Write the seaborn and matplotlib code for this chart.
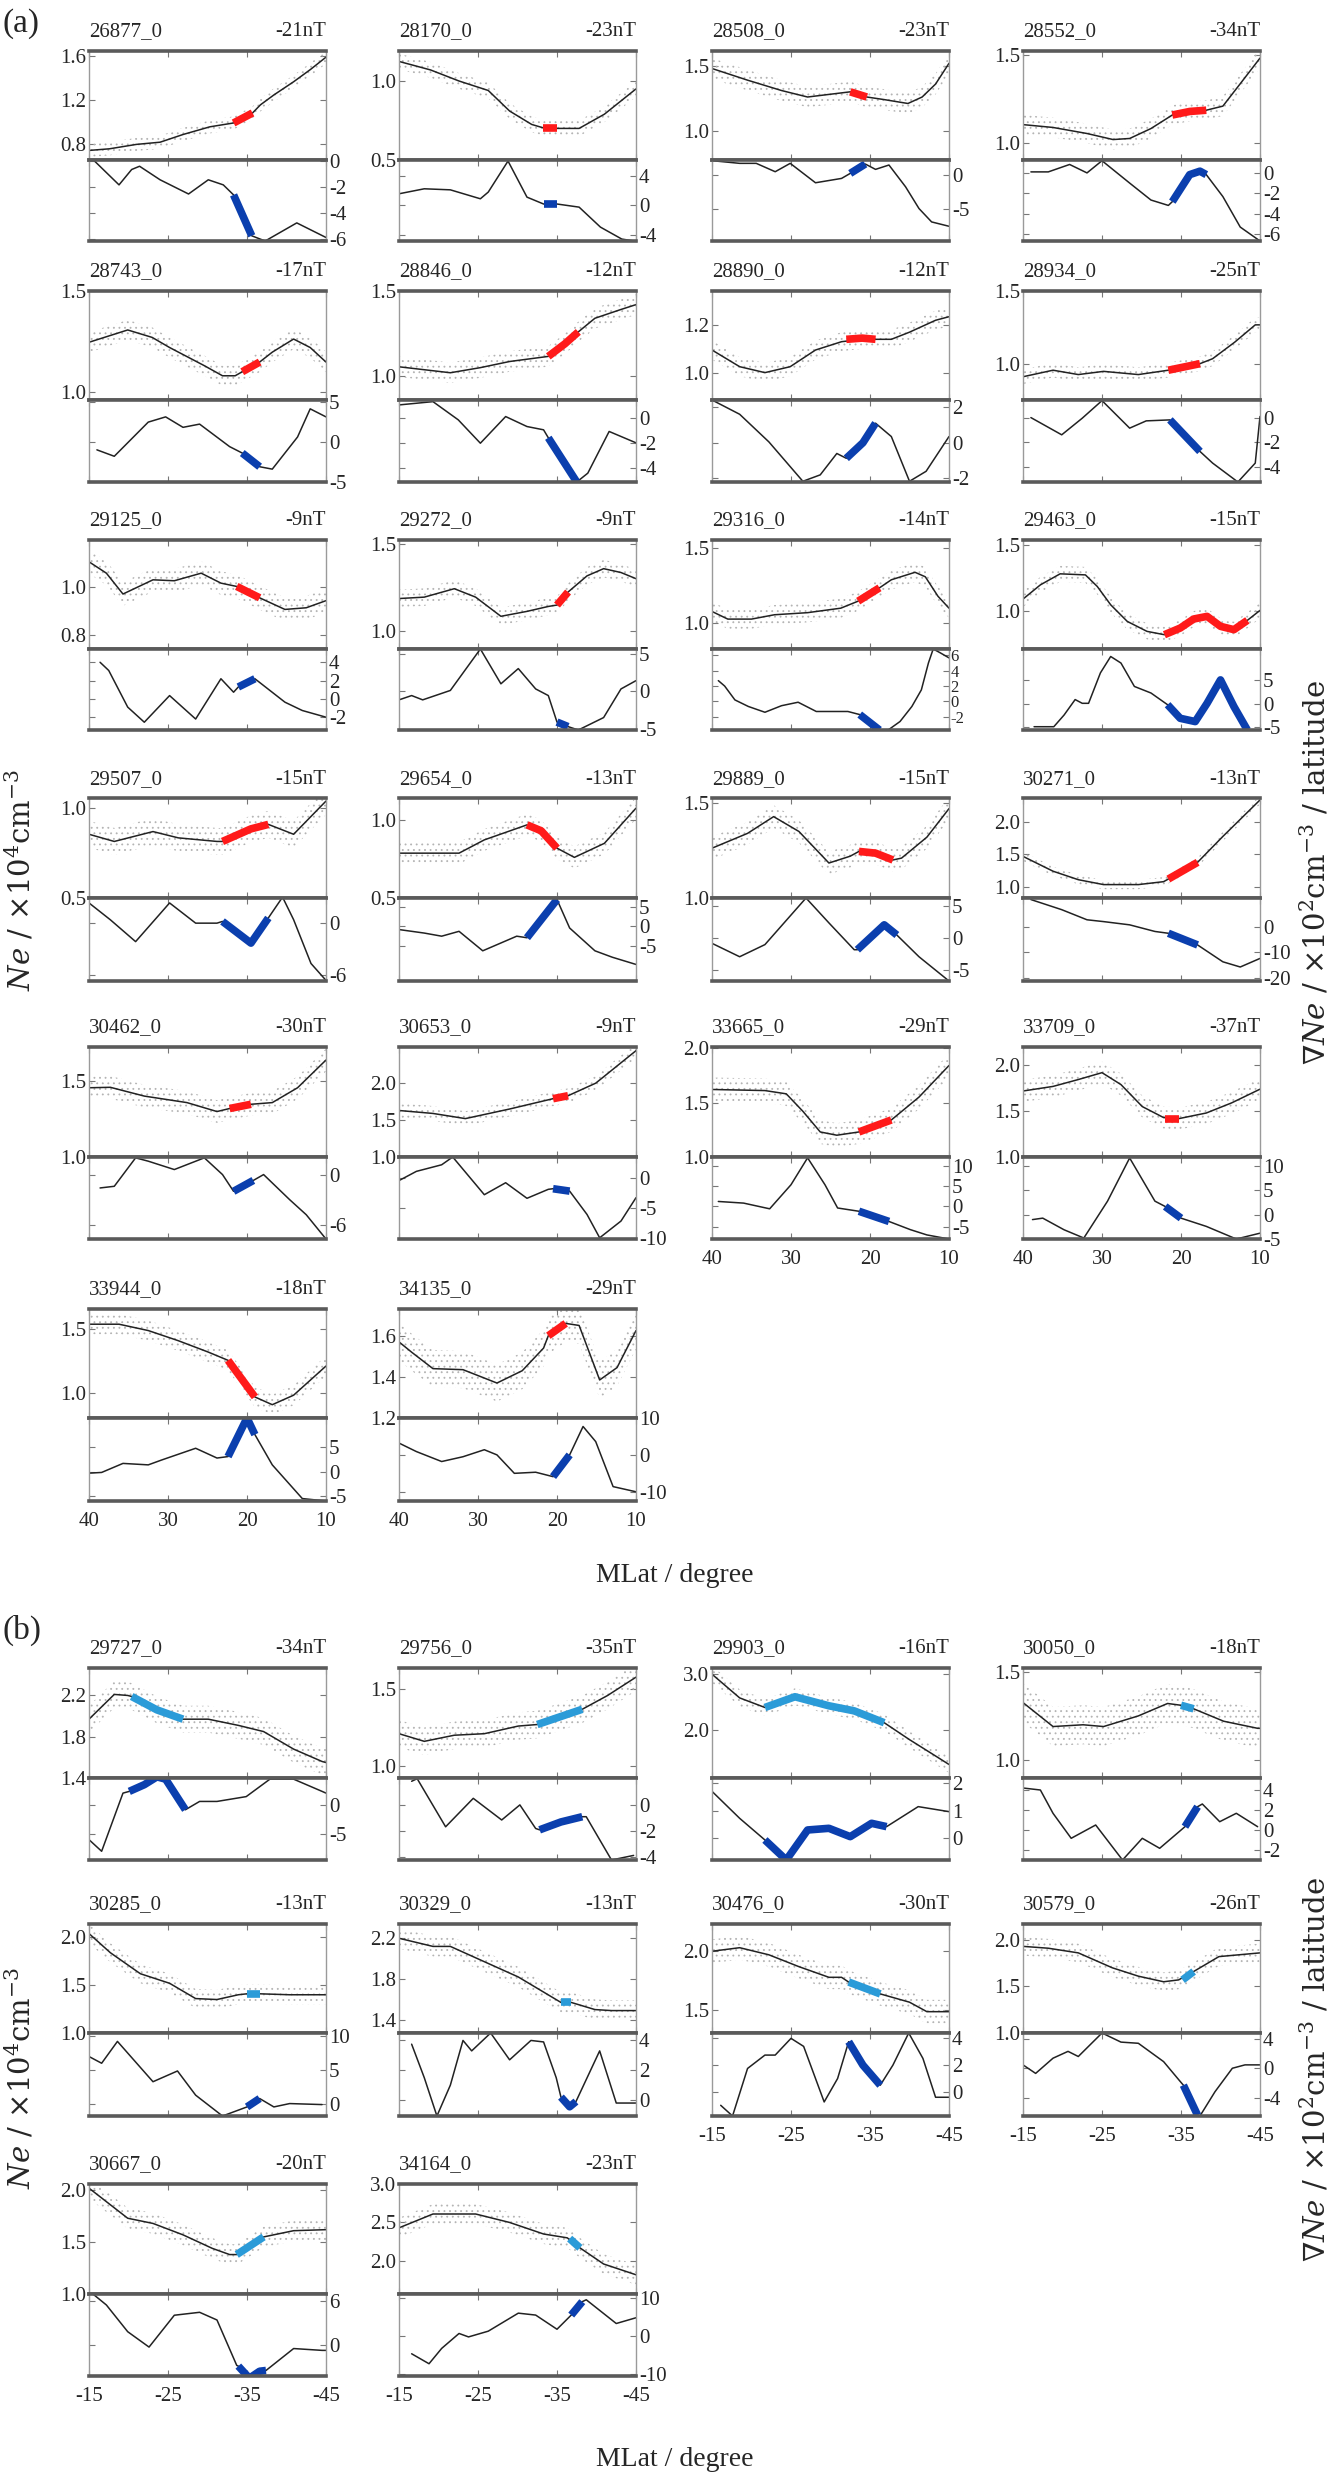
import matplotlib
matplotlib.use("Agg")
import matplotlib.pyplot as plt
import seaborn as sns

# ---------------- panel (a) data ----------------
orbits_a = ["26877_0", "28170_0", "28508_0", "28552_0", "28743_0", "28846_0", "28890_0", "28934_0",
            "29125_0", "29272_0", "29316_0", "29463_0", "29507_0", "29654_0", "29889_0", "30271_0",
            "30462_0", "30653_0", "33665_0", "33709_0", "33944_0", "34135_0"]
dst_a = ["-21nT", "-23nT", "-23nT", "-34nT", "-17nT", "-12nT", "-12nT", "-25nT",
         "-9nT", "-9nT", "-14nT", "-15nT", "-15nT", "-13nT", "-15nT", "-13nT",
         "-30nT", "-9nT", "-29nT", "-37nT", "-18nT", "-29nT"]

# Ne curves (MLat, Ne)
ne_a = [
    [(40, 0.745), (37.4, 0.76), (34, 0.80), (31, 0.82), (28.1, 0.89), (24.7, 0.96), (21.7, 0.995), (19.3, 1.086), (18.3, 1.16), (16.6, 1.25), (14.1, 1.37), (12, 1.48), (10, 1.594)],
    [(40, 1.124), (36, 1.07), (32.4, 1.0), (28.7, 0.94), (26, 0.81), (23.2, 0.725), (21.5, 0.70), (20, 0.70), (17.2, 0.70), (14, 0.79), (10, 0.95)],
    [(40, 1.48), (35.5, 1.39), (31.2, 1.31), (27.9, 1.26), (25.2, 1.28), (22.5, 1.30), (20.4, 1.26), (18.2, 1.24), (15.2, 1.21), (13.4, 1.26), (11.7, 1.36), (10, 1.52)],
    [(40, 1.106), (36.2, 1.09), (31.9, 1.056), (28.6, 1.022), (26.5, 1.028), (23.8, 1.084), (21.1, 1.16), (18.9, 1.18), (16.8, 1.187), (14.7, 1.21), (12.5, 1.336), (10, 1.48)],
    [(40, 1.246), (35.1, 1.307), (32, 1.27), (29.8, 1.22), (25.4, 1.13), (23.1, 1.08), (21.5, 1.08), (20.6, 1.10), (18.4, 1.148), (16.8, 1.197), (14.1, 1.262), (12, 1.22), (10, 1.148)],
    [(40, 1.055), (33.5, 1.02), (29.7, 1.05), (26, 1.086), (21.1, 1.116), (19, 1.19), (17.3, 1.26), (15.2, 1.34), (12, 1.39), (10, 1.42)],
    [(40, 1.095), (36.5, 1.025), (33.3, 1.0), (30.1, 1.025), (26.9, 1.095), (23.6, 1.13), (21, 1.14), (19.3, 1.14), (17.3, 1.14), (15, 1.17), (11.7, 1.22), (10, 1.235)],
    [(40, 0.91), (36.2, 0.955), (33, 0.925), (29.8, 0.947), (25.4, 0.925), (21.6, 0.955), (17.6, 1.0), (16, 1.034), (13.2, 1.148), (10.6, 1.267), (10, 1.267)],
    [(40, 1.108), (37.8, 1.06), (35.7, 0.972), (31.9, 1.032), (29.2, 1.028), (25.8, 1.06), (23.3, 1.018), (21.3, 1.004), (18.4, 0.956), (15.2, 0.907), (12.5, 0.914), (10, 0.944)],
    [(40, 1.187), (36.8, 1.195), (33, 1.243), (30.3, 1.195), (27.1, 1.086), (23.8, 1.114), (21.1, 1.142), (20, 1.15), (18.6, 1.224), (16.2, 1.316), (14.1, 1.357), (11.9, 1.335), (10, 1.30)],
    [(40, 1.078), (38, 1.027), (35, 1.027), (32.1, 1.056), (27.9, 1.07), (23.7, 1.10), (21.5, 1.147), (18.8, 1.236), (17.3, 1.29), (14.3, 1.34), (13, 1.31), (11.4, 1.18), (10, 1.10)],
    [(40, 1.093), (37.8, 1.2), (35.3, 1.283), (32.1, 1.275), (30.6, 1.188), (28.9, 1.05), (26.8, 0.925), (24.3, 0.85), (22.1, 0.825), (20.1, 0.875), (18.4, 0.943), (16.7, 0.963), (15, 0.888), (13.3, 0.863), (11.6, 0.933), (10, 1.008)],
    [(40, 0.855), (36.8, 0.815), (31.9, 0.87), (28.7, 0.835), (23.8, 0.815), (23.1, 0.815), (19.5, 0.885), (17.3, 0.91), (14.1, 0.855), (10, 1.04)],
    [(40, 0.787), (32.4, 0.787), (29.2, 0.872), (23.8, 0.968), (22, 0.93), (20, 0.819), (17.8, 0.76), (14, 0.85), (10, 1.075)],
    [(40, 1.262), (35.5, 1.34), (32.2, 1.428), (29, 1.35), (25.2, 1.184), (22.5, 1.22), (21.4, 1.245), (19.3, 1.236), (17.1, 1.2), (16, 1.21), (12.8, 1.32), (10, 1.47)],
    [(40, 1.467), (36.2, 1.24), (33, 1.11), (29.8, 1.035), (25.4, 1.035), (22.2, 1.08), (21.6, 1.12), (17.9, 1.376), (14.7, 1.772), (10, 2.33)],
    [(40, 1.457), (37.3, 1.46), (33, 1.402), (27.6, 1.359), (23.8, 1.30), (22.2, 1.32), (19.5, 1.348), (16.8, 1.359), (13.6, 1.457), (10, 1.64)],
    [(40, 1.63), (35.7, 1.59), (31.6, 1.52), (26, 1.65), (20.5, 1.79), (18.6, 1.83), (15.1, 2.0), (10, 2.44)],
    [(40, 1.62), (33.3, 1.61), (30.6, 1.58), (28.5, 1.42), (26.3, 1.23), (24.2, 1.2), (21.4, 1.23), (17.3, 1.34), (13.8, 1.55), (10, 1.84)],
    [(40, 1.72), (36.2, 1.77), (33, 1.845), (30, 1.92), (27.6, 1.79), (24.9, 1.55), (22.2, 1.43), (20.2, 1.42), (16.8, 1.48), (13.6, 1.59), (10, 1.74)],
    [(40, 1.54), (36.2, 1.54), (32.5, 1.49), (28.7, 1.41), (24.9, 1.32), (22.4, 1.255), (19, 0.966), (16.8, 0.905), (14.1, 0.98), (10, 1.21)],
    [(40, 1.57), (38.4, 1.52), (35.7, 1.44), (31.9, 1.435), (27.6, 1.37), (24.4, 1.43), (21.7, 1.54), (21.1, 1.6), (18.9, 1.66), (17.2, 1.65), (14.6, 1.385), (12.4, 1.445), (10, 1.625)],
]

# highlighted Ne segments
ne_hl_a = [
    [(21.7, 0.995), (19.3, 1.086)],
    [(21.8, 0.70), (20, 0.70)],
    [(22.5, 1.30), (20.4, 1.26)],
    [(21.1, 1.16), (18.9, 1.18), (16.8, 1.187)],
    [(20.6, 1.10), (18.4, 1.148)],
    [(21.1, 1.116), (19, 1.19), (17.3, 1.26)],
    [(23, 1.14), (21, 1.145), (19.3, 1.14)],
    [(21.6, 0.955), (17.6, 1.0)],
    [(21.3, 1.004), (18.4, 0.956)],
    [(20, 1.15), (18.6, 1.224)],
    [(21.5, 1.147), (18.8, 1.236)],
    [(22.1, 0.825), (20.1, 0.875), (18.4, 0.943), (16.7, 0.963), (15, 0.888), (13.3, 0.863), (11.6, 0.933)],
    [(23.1, 0.815), (19.5, 0.885), (17.3, 0.91)],
    [(23.8, 0.968), (22, 0.93), (20, 0.819)],
    [(21.4, 1.245), (19.3, 1.236), (17.1, 1.2)],
    [(21.6, 1.12), (17.9, 1.376)],
    [(22.2, 1.32), (19.5, 1.348)],
    [(20.5, 1.79), (18.6, 1.83)],
    [(21.4, 1.23), (17.3, 1.34)],
    [(22, 1.42), (20.2, 1.42)],
    [(22.4, 1.255), (19, 0.966)],
    [(21.1, 1.6), (18.9, 1.66)],
]

# gradient curves (MLat, dNe)
grad_a = [
    [(39.3, 0.0), (36.2, -1.83), (34.6, -0.65), (33.6, -0.4), (31, -1.44), (27.4, -2.53), (24.9, -1.44), (23, -1.83), (21.7, -2.6), (19.4, -5.74), (17.7, -6.14), (13.7, -4.75), (10, -5.87)],
    [(40, 1.57), (36.8, 2.24), (33.5, 2.1), (29.7, 0.9), (28.7, 1.8), (26.2, 5.96), (23.8, 1.12), (21.7, 0.2), (20, 0.2), (17.2, -0.22), (14.5, -2.9), (11.8, -4.5), (10, -4.8)],
    [(40, 2.15), (36.5, 1.75), (34.4, 1.75), (32, 0.5), (30.1, 1.75), (26.9, -1.15), (23.6, -0.5), (22.5, 0.25), (20.6, 1.65), (19.3, 0.85), (17.6, 1.5), (15.5, -1.75), (13.8, -5), (12.2, -7), (10, -7.65)],
    [(39, 0.1), (36.8, 0.1), (34.1, 0.83), (31.9, 0), (30, 1.2), (26.5, -1.0), (23.8, -2.67), (21.6, -3.2), (21.1, -2.83), (18.9, -0.17), (17.6, 0.17), (16.8, -0.17), (14.7, -2.33), (12.5, -5.33), (10, -6.7)],
    [(39, -1.0), (36.8, -1.8), (32.5, 2.45), (30.3, 3.1), (28.1, 1.8), (26, 2.2), (22.2, -0.6), (20.6, -1.4), (18.4, -3.1), (16.8, -3.4), (13.6, 0.6), (12, 4.1), (10, 3.1)],
    [(40, 1.0), (35.7, 1.26), (32.5, -0.18), (29.7, -2.03), (26.5, 0.08), (23.8, -0.71), (21.7, -0.97), (21.1, -1.6), (17.5, -5.1), (16.1, -4.4), (13.4, -1.1), (10, -2.0)],
    [(40, 2.4), (36.5, 1.6), (32.8, 0.05), (28.5, -2.16), (26.3, -1.8), (24.2, -0.6), (23, -0.87), (20.9, 0), (19.3, 1.1), (17.3, 0.35), (15, -2.16), (12.9, -1.6), (10, 0.35)],
    [(39, 0.05), (35.1, -1.37), (32.5, 0.0), (30, 1.45), (26.5, -0.82), (24.4, -0.22), (21.4, -0.14), (17.6, -2.74), (16, -3.7), (12.8, -5.26), (10.6, -3.7), (10, 0.14)],
    [(38.6, 4.0), (37.5, 3.1), (35.1, -0.9), (33, -2.55), (29.8, 0.36), (26.5, -2.2), (23.3, 2.2), (21.7, 0.73), (21.1, 1.3), (19, 2.2), (15.2, -0.36), (13, -1.27), (10, -2.0)],
    [(40, -1.15), (38.4, -0.58), (37, -1.15), (33.5, 0.1), (29.7, 5.6), (27.1, 0.98), (24.9, 3.0), (22.7, 0.3), (21.1, -0.58), (20, -4.1), (18.6, -4.7), (17.3, -5.15), (14.1, -3.5), (11.9, 0.3), (10, 1.4)],
    [(39.2, 2.7), (38.4, 2.0), (37.1, 0.2), (35.4, -0.65), (33.3, -1.4), (31.2, -0.55), (29.1, -0.1), (26.8, -1.3), (22.8, -1.3), (21.3, -1.7), (18.8, -3.7), (17.7, -3.7), (16.2, -2.6), (14.7, -0.65), (13.5, 1.5), (12.6, 5.0), (12, 6.8), (11.1, 6.3), (10, 5.65)],
    [(38.6, -4.9), (36.1, -4.9), (34.8, -2.4), (33.4, 0.9), (32.5, 0.1), (31.7, 0.1), (30.2, 6.6), (28.9, 10.1), (27.6, 8.7), (25.9, 3.7), (23.8, 2.3), (21.7, -0.2), (20.1, -3.1), (18.2, -3.8), (16.7, 0.1), (15, 5.1), (13.3, -0.6), (11.6, -5.6), (10, -5.6)],
    [(40, 2.33), (37.3, 0.39), (34.1, -2.13), (29.8, 2.33), (26.5, 0), (23.8, 0), (23.1, 0.2), (19.5, -2.3), (17.3, 0.6), (15.5, 3.0), (14.1, 0.4), (11.9, -4.65), (10, -6.6)],
    [(40, -0.8), (36.8, -1.7), (34.6, -2.5), (32.4, -1.25), (29.4, -6.25), (25.1, -2.5), (23.8, -2.9), (20, 6.9), (18.4, -0.4), (15.2, -6.25), (13, -7.9), (10, -9.75)],
    [(40, -0.8), (36.5, -2.9), (33.3, -1.0), (28.1, 6.3), (25.2, 2.4), (22, -1.8), (21.6, -1.8), (18.2, 2.1), (16.6, 0.5), (13.8, -2.9), (10, -6.7)],
    [(39, 10.4), (35.1, 6.5), (31.9, 2.6), (29.8, 1.9), (26.5, 0.65), (23.3, -1.9), (21.6, -2.6), (17.9, -7.1), (14.7, -13.6), (12.5, -15.6), (10, -12.3)],
    [(38.6, -1.6), (36.8, -1.4), (34.1, 2.0), (32.5, 1.6), (29.2, 0.6), (25.4, 2.0), (23.1, 0), (21.7, -2.0), (19.2, -0.7), (17.9, 0), (14.6, -3), (12.5, -4.8), (10, -7.7)],
    [(40, -0.44), (37.8, 1.1), (34.6, 2.2), (33.2, 3.5), (29.2, -2.8), (26.5, -0.8), (23.8, -3.4), (21.1, -1.9), (20.5, -1.8), (18.4, -2.2), (16.2, -6.1), (14.6, -10), (11.9, -7.2), (10, -3.3)],
    [(39.2, 1.2), (36, 0.8), (32.7, -0.6), (30, 5.3), (27.9, 11.9), (25.7, 5.3), (24.1, -0.4), (21.4, -1.2), (17.6, -3.7), (14.9, -5.7), (12.8, -7), (10, -8)],
    [(38.8, -1), (37.5, -0.7), (34.8, -3.1), (32.3, -4.8), (29.3, 2.8), (26.5, 11.7), (23.3, 2.8), (22, 1.7), (20, -0.7), (16.8, -2.4), (13, -5), (10, -3.8)],
    [(40, -0.3), (38.4, -0.15), (35.7, 1.7), (32.5, 1.4), (30.8, 2.4), (26.5, 4.8), (23.8, 2.8), (22.4, 3.1), (20, 11), (19, 7.6), (16.8, 1.4), (13, -5.5), (10, -6)],
    [(40, 3.2), (37.8, 0.9), (34.6, -1.8), (31.9, -0.5), (29.2, 1.4), (27.6, 0), (25.4, -5), (22.7, -4.7), (20.5, -5.9), (18.4, 0), (16.7, 7.7), (15.1, 3.6), (12.9, -8.6), (10, -10)],
]

grad_hl_a = [
    [(21.7, -2.6), (19.4, -5.74)],
    [(21.7, 0.2), (20, 0.2)],
    [(22.5, 0.25), (20.6, 1.65)],
    [(21.1, -2.83), (18.9, -0.17), (17.6, 0.17), (16.8, -0.17)],
    [(20.6, -1.4), (18.4, -3.1)],
    [(21.1, -1.6), (17.5, -5.1)],
    [(23, -0.87), (20.9, 0), (19.3, 1.1)],
    [(21.4, -0.14), (17.6, -2.74)],
    [(21.1, 1.3), (19, 2.2)],
    [(20, -4.1), (18.6, -4.7)],
    [(21.3, -1.7), (18.8, -3.7)],
    [(21.7, -0.2), (20.1, -3.1), (18.2, -3.8), (16.7, 0.1), (15, 5.1), (13.3, -0.6), (11.6, -5.6)],
    [(23.1, 0.2), (19.5, -2.3), (17.3, 0.6)],
    [(23.8, -2.9), (20, 6.9)],
    [(21.6, -1.8), (18.2, 2.1), (16.6, 0.5)],
    [(21.6, -2.6), (17.9, -7.1)],
    [(21.7, -2.0), (19.2, -0.7)],
    [(20.5, -1.8), (18.4, -2.2)],
    [(21.4, -1.2), (17.6, -3.7)],
    [(22, 1.7), (20, -0.7)],
    [(22.4, 3.1), (20, 11), (19, 7.6)],
    [(20.5, -5.9), (18.4, 0)],
]

ne_lim_a = [(0.658, 1.65), (0.5, 1.19), (0.774, 1.615), (0.907, 1.52), (0.96, 1.5), (0.86, 1.5),
            (0.885, 1.343), (0.75, 1.5), (0.74, 1.2), (0.9, 1.52), (0.827, 1.556), (0.7175, 1.5375),
            (0.5, 1.057), (0.5, 1.14), (1.0, 1.526), (0.83, 2.36), (1.0, 1.726), (1.0, 2.49),
            (1.0, 2.01), (1.0, 2.2), (0.8, 1.66), (1.2, 1.73)]
ne_ticks_a = [[0.8, 1.2, 1.6], [0.5, 1.0], [1.0, 1.5], [1.0, 1.5], [1.0, 1.5], [1.0, 1.5],
              [1.0, 1.2], [1.0, 1.5], [0.8, 1.0], [1.0, 1.5], [1.0, 1.5], [1.0, 1.5],
              [0.5, 1.0], [0.5, 1.0], [1.0, 1.5], [1.0, 1.5, 2.0], [1.0, 1.5], [1.0, 1.5, 2.0],
              [1.0, 1.5, 2.0], [1.0, 1.5, 2.0], [1.0, 1.5], [1.2, 1.4, 1.6]]
grad_lim_a = [(-6.14, 0.08), (-4.76, 6.1), (-9.85, 2.25), (-6.7, 1.27), (-5, 5.2), (-5.1, 1.39),
              (-2.2, 2.4), (-5.26, 1.5), (-3.4, 5.45), (-5.15, 5.6), (-3.7, 6.8), (-5.6, 11.7),
              (-6.67, 2.9), (-14, 7.3), (-6.7, 6.3), (-21, 11), (-7.7, 2.1), (-10.2, 3.5),
              (-8, 12.1), (-5, 11.9), (-6, 11), (-12.5, 10)]
grad_ticks_a = [[0, -2, -4, -6], [4, 0, -4], [0, -5], [0, -2, -4, -6], [5, 0, -5], [0, -2, -4],
                [2, 0, -2], [0, -2, -4], [4, 2, 0, -2], [5, 0, -5], [6, 4, 2, 0, -2], [5, 0, -5],
                [0, -6], [5, 0, -5], [5, 0, -5], [0, -10, -20], [0, -6], [0, -5, -10],
                [10, 5, 0, -5], [10, 5, 0, -5], [5, 0, -5], [10, 0, -10]]
# half-width of the raw Ne scatter around each curve
spread_a = [0.06, 0.05, 0.08, 0.055, 0.05, 0.06, 0.04, 0.05, 0.05, 0.05, 0.065, 0.06,
            0.075, 0.07, 0.06, 0.07, 0.075, 0.1, 0.11, 0.12, 0.08, 0.09]

# ---------------- panel (b) data ----------------
orbits_b = ["29727_0", "29756_0", "29903_0", "30050_0", "30285_0", "30329_0", "30476_0", "30579_0",
            "30667_0", "34164_0"]
dst_b = ["-34nT", "-35nT", "-16nT", "-18nT", "-13nT", "-13nT", "-30nT", "-26nT", "-20nT", "-23nT"]

ne_b = [
    [(-15, 1.97), (-18.2, 2.21), (-19.9, 2.2), (-20.4, 2.19), (-23.6, 2.06), (-26.9, 1.97), (-30.1, 1.97), (-33.9, 1.91), (-37.1, 1.85), (-40.9, 1.68), (-44.5, 1.56), (-45, 1.55)],
    [(-15, 1.21), (-18.2, 1.16), (-22, 1.20), (-25.8, 1.21), (-30.1, 1.26), (-32.5, 1.27), (-38.2, 1.37), (-41.4, 1.46), (-44.7, 1.57), (-45, 1.58)],
    [(-15, 2.99), (-18.5, 2.57), (-21.7, 2.4), (-25.5, 2.59), (-29.8, 2.43), (-33, 2.34), (-36.8, 2.13), (-40, 1.83), (-43.3, 1.54), (-45, 1.39)],
    [(-15, 1.325), (-18.8, 1.19), (-22.6, 1.2), (-25.2, 1.19), (-29.6, 1.25), (-33.3, 1.32), (-35, 1.31), (-36.6, 1.29), (-40.4, 1.22), (-44.7, 1.18), (-45, 1.18)],
    [(-15, 2.04), (-17.7, 1.84), (-21.5, 1.62), (-25.2, 1.52), (-28.5, 1.36), (-31.2, 1.35), (-33.9, 1.40), (-35, 1.41), (-36.6, 1.41), (-40.4, 1.40), (-45, 1.40)],
    [(-15, 2.2), (-19.3, 2.12), (-21.5, 2.12), (-25.8, 1.97), (-30.1, 1.82), (-35.5, 1.57), (-36.8, 1.57), (-39.8, 1.5), (-41.9, 1.49), (-45, 1.49)],
    [(-15, 2.0), (-18.5, 2.03), (-22.2, 1.97), (-26, 1.87), (-29.8, 1.78), (-31.4, 1.78), (-32.3, 1.74), (-36.3, 1.64), (-40, 1.57), (-42.2, 1.49), (-45, 1.49)],
    [(-15, 1.93), (-18.2, 1.91), (-22, 1.86), (-26.3, 1.70), (-29.6, 1.61), (-32.8, 1.55), (-34.7, 1.57), (-36.6, 1.66), (-39.8, 1.82), (-45, 1.86)],
    [(-15, 2.02), (-19.9, 1.73), (-23.1, 1.68), (-26.9, 1.57), (-30.6, 1.44), (-32.8, 1.38), (-33.7, 1.38), (-37.1, 1.55), (-40.9, 1.61), (-45, 1.62)],
    [(-15, 2.43), (-19.3, 2.61), (-24.7, 2.61), (-29, 2.5), (-33.3, 2.35), (-36.3, 2.30), (-37.9, 2.17), (-40.9, 1.96), (-45, 1.82)],
]

ne_hl_b = [
    [(-20.4, 2.19), (-23.6, 2.06), (-26.9, 1.97)],
    [(-32.5, 1.27), (-38.2, 1.37)],
    [(-21.7, 2.4), (-25.5, 2.59), (-29.8, 2.43), (-33, 2.34), (-36.8, 2.13)],
    [(-35, 1.31), (-36.6, 1.29)],
    [(-35, 1.41), (-36.6, 1.41)],
    [(-35.5, 1.57), (-36.8, 1.57)],
    [(-32.3, 1.74), (-36.3, 1.64)],
    [(-35.2, 1.57), (-36.6, 1.66)],
    [(-33.7, 1.38), (-37.1, 1.55)],
    [(-36.6, 2.29), (-37.9, 2.17)],
]

grad_b = [
    [(-15, -6), (-16.6, -8), (-19.3, 2.0), (-20.1, 2.3), (-22, 3.45), (-23.6, 4.8), (-24.7, 4.4), (-27.2, -0.86), (-29, 0.57), (-31.2, 0.57), (-34.9, 1.4), (-37.9, 4.4), (-40.9, 4.4), (-44.5, 2.3), (-45, 2.0)],
    [(-16.6, 1.8), (-17.3, 2.0), (-20.9, -1.67), (-24.4, 0.5), (-28, -1.15), (-30.3, 0), (-32.3, -1.8), (-32.8, -1.9), (-35.5, -1.3), (-38.2, -0.9), (-38.7, -0.9), (-41.9, -4.2), (-44.7, -3.85)],
    [(-15, 1.69), (-18.5, 0.72), (-21.7, -0.06), (-24.4, -0.78), (-27.1, 0.3), (-29.8, 0.36), (-32.5, 0.06), (-35.2, 0.54), (-37.1, 0.42), (-41.1, 1.14), (-45, 0.96)],
    [(-15, 4.2), (-17.2, 4.0), (-18.8, 1.67), (-21.1, -0.83), (-24.2, 0.5), (-27.6, -3), (-30.1, -0.83), (-32.3, -1.83), (-35.5, 0.33), (-37.1, 2.33), (-37.7, 2.6), (-39.9, 0.83), (-42, 1.67), (-44.7, 0.33)],
    [(-15, 7), (-16.6, 6), (-18.6, 9.25), (-23.1, 3.25), (-26.2, 4.85), (-28.5, 1.25), (-31.9, -1.85), (-35, -0.5), (-36.6, 0.75), (-38.4, -0.5), (-40.4, 0), (-44.5, -0.15)],
    [(-16.6, 3.75), (-18.2, 1.5), (-19.8, -1.07), (-21.5, 1.0), (-23.1, 4.0), (-24.2, 3.3), (-26.6, 4.5), (-29, 2.7), (-31.7, 4.0), (-33.3, 3.9), (-34.9, 1.5), (-35.5, 0.2), (-36.6, -0.45), (-37.4, -0.1), (-40.4, 3.3), (-42.5, -0.2), (-45, -0.2)],
    [(-16.1, -1), (-17.6, -1.8), (-19.5, 1.75), (-21.7, 2.75), (-23, 2.75), (-25, 4.0), (-26.6, 3.4), (-29.2, -0.75), (-30.9, 1.0), (-32.3, 3.75), (-34.1, 2.0), (-36.3, 0.5), (-37.9, 2.0), (-39.9, 4.4), (-41.7, 2.5), (-43.3, -0.4), (-45, -0.4)],
    [(-15, 0.46), (-16.6, -0.7), (-18.8, 1.37), (-20.7, 2.3), (-22, 1.6), (-25, 4.8), (-27.4, 3.56), (-29.6, 3.4), (-32.8, 0.9), (-34.9, -1.8), (-35.3, -2.3), (-37.1, -6.4), (-37.4, -6.5), (-39.3, -3.2), (-41.5, 0), (-43.1, 0.46), (-45, 0.46)],
    [(-15.5, 7), (-17.2, 5.5), (-19.9, 1.85), (-22.6, -0.25), (-25.8, 4.1), (-29, 4.5), (-31.2, 3.45), (-33.7, -2.75), (-33.9, -2.85), (-35.3, -4.5), (-36.6, -3.55), (-37.4, -3.45), (-40.9, -0.45), (-44.5, -0.7), (-45, -0.7)],
    [(-16.6, -4.6), (-18.8, -7.2), (-20.4, -3.2), (-22.6, 0.7), (-23.8, -0.2), (-26.3, 1.3), (-30.1, 6.0), (-32.3, 5.5), (-35, 1.8), (-36.8, 5.5), (-38.2, 9.0), (-38.7, 9.5), (-42.5, 3.3), (-45, 4.8)],
]

grad_hl_b = [
    [(-20.1, 2.3), (-22, 3.45), (-23.6, 4.8), (-24.7, 4.4), (-27.2, -0.86)],
    [(-32.8, -1.9), (-35.5, -1.3), (-38.2, -0.9)],
    [(-21.7, -0.06), (-24.4, -0.78), (-27.1, 0.3), (-29.8, 0.36), (-32.5, 0.06), (-35.2, 0.54), (-37.1, 0.42)],
    [(-35.5, 0.33), (-37.1, 2.33)],
    [(-35, -0.5), (-36.6, 0.75)],
    [(-35.5, 0.2), (-36.6, -0.45), (-37.4, -0.1)],
    [(-32.3, 3.75), (-34.1, 2.0), (-36.3, 0.5)],
    [(-35.3, -2.3), (-37.1, -6.4)],
    [(-33.9, -2.85), (-35.3, -4.5), (-36.6, -3.55), (-37.4, -3.45)],
    [(-36.8, 5.5), (-38.2, 9.0)],
]

ne_lim_b = [(1.4, 2.466), (0.92, 1.64), (1.15, 3.1), (0.9, 1.52), (1.0, 2.14), (1.27, 2.34),
            (1.31, 2.23), (1.0, 2.17), (1.0, 2.06), (1.57, 3.0)]
ne_ticks_b = [[1.4, 1.8, 2.2], [1.0, 1.5], [2.0, 3.0], [1.0, 1.5], [1.0, 1.5, 2.0], [1.4, 1.8, 2.2],
              [1.5, 2.0], [1.0, 1.5, 2.0], [1.0, 1.5, 2.0], [2.0, 2.5, 3.0]]
grad_lim_b = [(-9.5, 4.6), (-4.2, 2.05), (-0.78, 2.17), (-3, 5.2), (-1.85, 10.5), (-1.07, 4.5),
              (-1.8, 4.4), (-6.5, 4.8), (-4.2, 7), (-10.4, 11)]
grad_ticks_b = [[0, -5], [0, -2, -4], [2, 1, 0], [4, 2, 0, -2], [10, 5, 0], [4, 2, 0],
                [4, 2, 0], [4, 0, -4], [6, 0], [10, 0, -10]]
spread_b = [0.13, 0.09, 0.15, 0.11, 0.1, 0.1, 0.1, 0.1, 0.1, 0.13]

# ---------------- layout ----------------
W, H = 1332, 2479
COL_LEFT = [89, 399, 712, 1023]
AX_W = 237
ROWS_A = [(51, 160, 241), (291, 400, 482), (540, 649, 730), (798, 898, 981),
          (1047, 1157, 1239), (1309, 1418, 1501)]
ROWS_B = [(1668, 1778, 1860), (1924, 2033, 2116), (2184, 2294, 2376)]

sns.set_style("ticks")
plt.rcParams["font.family"] = ["Liberation Serif", "DejaVu Serif"]
plt.rcParams["mathtext.fontset"] = "dejavuserif"
plt.rcParams["hatch.linewidth"] = 0.6


def box(left, top, width, height):
    return [left / W, 1 - (top + height) / H, width / W, height / H]


def style_axes(ax, xlim, xticks):
    ax.set_xlim(xlim)
    ax.set_xticks(xticks)
    ax.tick_params(direction="in", length=4, width=0.8, color="#777777", labelsize=15,
                   top=True, bottom=True, left=True, right=True, pad=2)
    for side in ("left", "right"):
        ax.spines[side].set_linewidth(1.0)
        ax.spines[side].set_color("#9a9a9a")
    for side in ("top", "bottom"):
        ax.spines[side].set_linewidth(2.6)
        ax.spines[side].set_color("#5a5a5a")


def draw_panel(fig, left, rows, xlim, xticks, orbit, dst, ne, ne_hl, ne_lim, ne_ticks, spread,
               grad, grad_hl, grad_lim, grad_ticks, hl_color, show_x):
    top, mid, bot = rows
    ax1 = fig.add_axes(box(left, top, AX_W, mid - top))
    ax2 = fig.add_axes(box(left, mid, AX_W, bot - mid))

    # upper: Ne with its scatter band
    x, y = zip(*ne)
    ax1.fill_between(x, [v - spread for v in y], [v + spread for v in y],
                     facecolor="none", edgecolor="#b4b4b4", hatch="...", linewidth=0)
    sns.lineplot(x=list(x), y=list(y), ax=ax1, color="#222222", lw=1.1,
                 sort=False, estimator=None)
    hx, hy = zip(*ne_hl)
    sns.lineplot(x=list(hx), y=list(hy), ax=ax1, color=hl_color, lw=5.5,
                 sort=False, estimator=None, solid_capstyle="butt")
    style_axes(ax1, xlim, xticks)
    ax1.set_ylim(ne_lim)
    ax1.set_yticks(ne_ticks)
    ax1.set_yticklabels([f"{t:.1f}" for t in ne_ticks])
    ax1.tick_params(labelbottom=False)
    ax1.set_xlabel("")
    ax1.set_ylabel("")
    ax1.text(0, 1.09, orbit, transform=ax1.transAxes, ha="left", va="bottom", fontsize=15)
    ax1.text(1, 1.09, dst, transform=ax1.transAxes, ha="right", va="bottom", fontsize=15)

    # lower: gradient
    gx, gy = zip(*grad)
    sns.lineplot(x=list(gx), y=list(gy), ax=ax2, color="#222222", lw=1.1,
                 sort=False, estimator=None)
    bx, by = zip(*grad_hl)
    sns.lineplot(x=list(bx), y=list(by), ax=ax2, color="#0b3fae", lw=5.5,
                 sort=False, estimator=None, solid_capstyle="butt")
    style_axes(ax2, xlim, xticks)
    ax2.set_ylim(grad_lim)
    ax2.set_yticks(grad_ticks)
    ax2.set_yticklabels([str(t) for t in grad_ticks])
    crowded = len(grad_ticks) > 4
    ax2.tick_params(axis="y", labelleft=False, labelright=True,
                    labelsize=12 if crowded else 15, pad=1 if crowded else 2)
    ax2.tick_params(axis="x", labelbottom=show_x)
    if show_x:
        ax2.set_xticklabels([str(t) for t in xticks])
        ax2.tick_params(axis="x", pad=8)
    ax2.set_xlabel("")
    ax2.set_ylabel("")


fig = plt.figure(figsize=(W / 100, H / 100), dpi=100)

for i in range(len(orbits_a)):
    r, c = divmod(i, 4)
    draw_panel(fig, COL_LEFT[c], ROWS_A[r], (40, 10), [40, 30, 20, 10], orbits_a[i], dst_a[i],
               ne_a[i], ne_hl_a[i], ne_lim_a[i], ne_ticks_a[i], spread_a[i],
               grad_a[i], grad_hl_a[i], grad_lim_a[i], grad_ticks_a[i], "#ff1a1a",
               i in (18, 19, 20, 21))

for i in range(len(orbits_b)):
    r, c = divmod(i, 4)
    draw_panel(fig, COL_LEFT[c], ROWS_B[r], (-15, -45), [-15, -25, -35, -45], orbits_b[i], dst_b[i],
               ne_b[i], ne_hl_b[i], ne_lim_b[i], ne_ticks_b[i], spread_b[i],
               grad_b[i], grad_hl_b[i], grad_lim_b[i], grad_ticks_b[i], "#2b9bd8",
               i in (6, 7, 8, 9))

left_label = r"$Ne$ / ×10$^4$cm$^{-3}$"
right_label = r"$\nabla Ne$ / ×10$^2$cm$^{-3}$ / latitude"
for ly, ry, xy in ((880, 873, 1575), (2078, 2070, 2460)):
    fig.text(20 / W, 1 - ly / H, left_label, rotation=90, ha="center", va="center",
             fontsize=21, family="DejaVu Serif")
    fig.text(1315 / W, 1 - ry / H, right_label, rotation=90, ha="center", va="center",
             fontsize=21, family="DejaVu Serif")
    fig.text(675 / W, 1 - xy / H, "MLat / degree", ha="center", va="center", fontsize=20)

fig.text(2 / W, 1 - 24 / H, "(a)", ha="left", va="center", fontsize=24)
fig.text(2 / W, 1 - 1630 / H, "(b)", ha="left", va="center", fontsize=24)

fig.savefig("out.png", dpi=100)
